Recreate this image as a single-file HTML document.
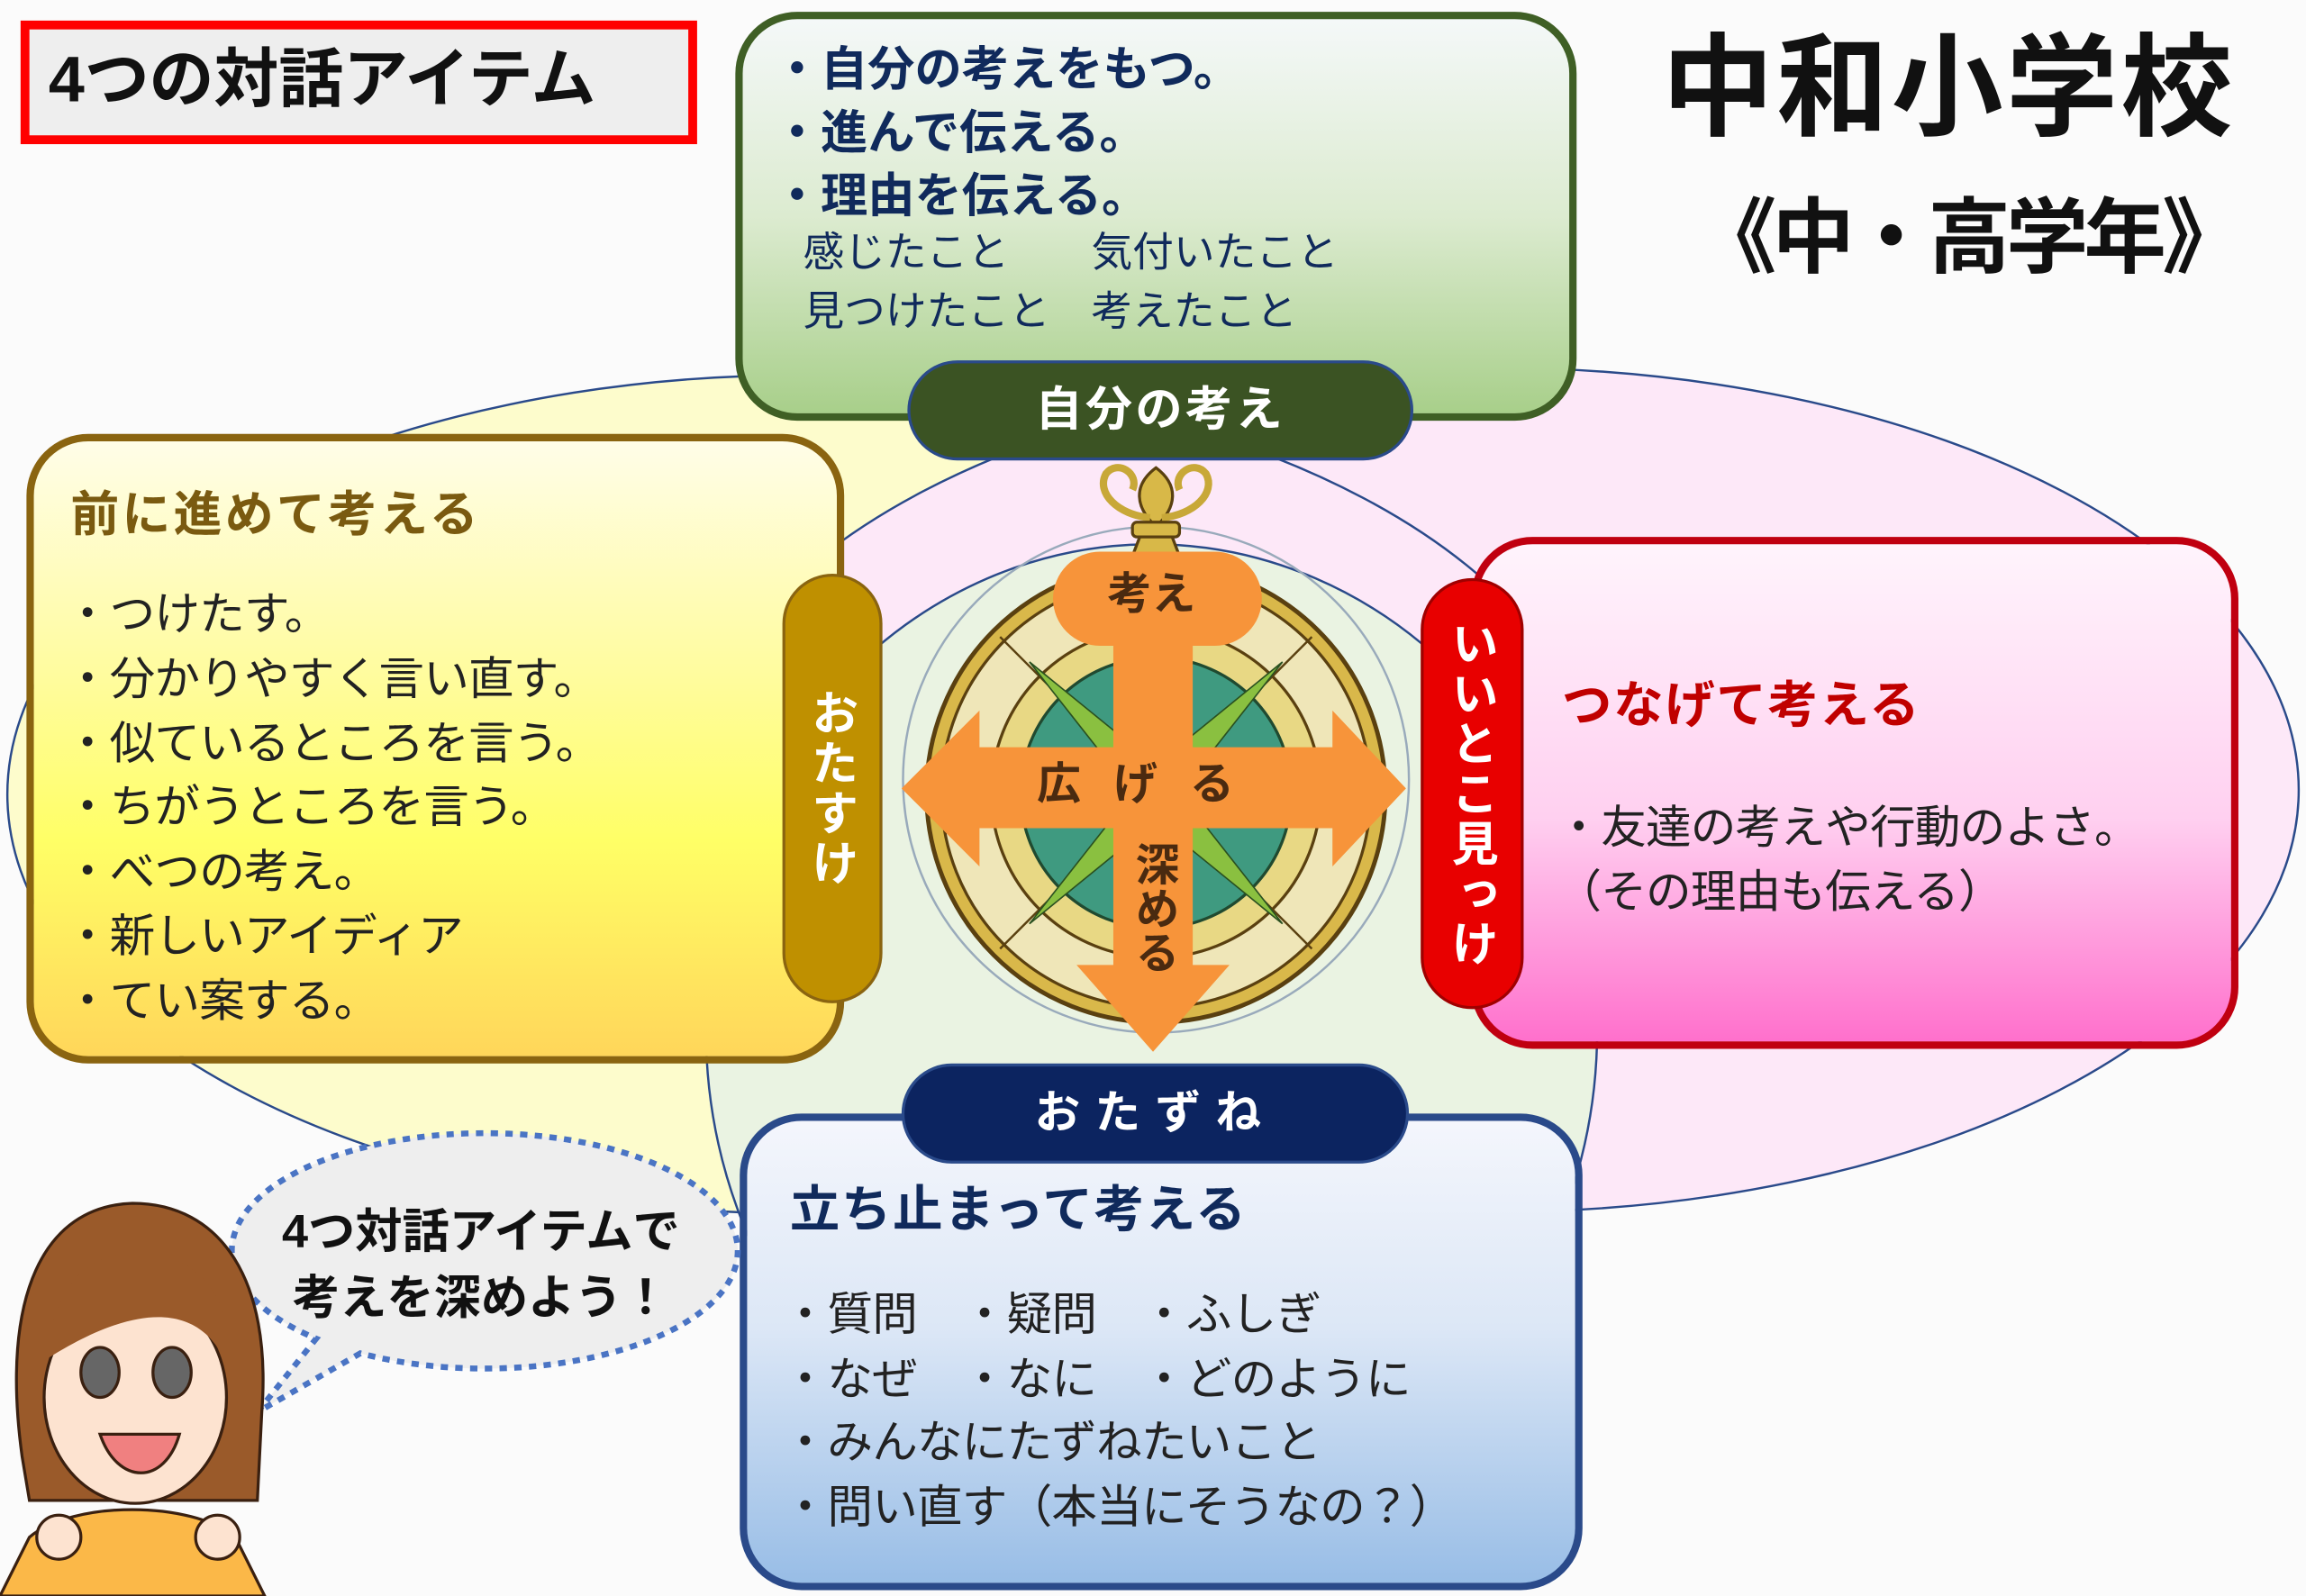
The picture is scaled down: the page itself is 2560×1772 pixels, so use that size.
<!DOCTYPE html>
<html><head><meta charset="utf-8"><style>
html,body{margin:0;padding:0;background:#fbfbfb;}
#w{position:relative;width:2560px;height:1772px;overflow:hidden;}
#s{position:absolute;left:0;top:0;width:1568px;height:1085px;transform:scale(1.6327,1.6332);transform-origin:0 0;font-family:"Liberation Sans","Noto Sans CJK JP",sans-serif;}
.a{position:absolute;box-sizing:border-box;}
.t{position:absolute;white-space:nowrap;line-height:1;}
.vt{writing-mode:vertical-rl;color:#fff;font-weight:bold;font-size:32px;display:flex;align-items:center;justify-content:center;letter-spacing:2px;}
</style></head><body><div id="w"><div id="s">
<svg class="a" style="left:0;top:0" width="1568" height="1085">
<ellipse cx="545" cy="540" rx="540" ry="285" fill="#fdfccc" stroke="#2a4a8a" stroke-width="1.5"/>
<ellipse cx="1015" cy="537" rx="548" ry="287" fill="#fde8f8" stroke="#2a4a8a" stroke-width="1.5"/>
<path d="M545 255 A540 285 0 0 1 1085 540" fill="none" stroke="#2a4a8a" stroke-width="1.5"/>
<ellipse cx="783" cy="700" rx="303" ry="330" fill="#eaf3e2" stroke="#2a4a8a" stroke-width="1.5"/>
<circle cx="786" cy="530" r="172" fill="none" stroke="#9ab" stroke-width="1.5"/>
<circle cx="786" cy="539" r="156" fill="#d9b84a" stroke="#5a4010" stroke-width="3"/>
<circle cx="786" cy="539" r="146" fill="#efe6b8" stroke="#5a4010" stroke-width="2"/>
<circle cx="786" cy="539" r="112" fill="#e8d884" stroke="#5a4010" stroke-width="2"/>
<circle cx="786" cy="539" r="92" fill="#3f9a80" stroke="#204a30" stroke-width="2"/>
<g stroke="#5a4010" stroke-width="1.5">
<line x1="680" y1="433" x2="892" y2="645"/><line x1="892" y1="433" x2="680" y2="645"/>
<line x1="786" y1="383" x2="786" y2="695"/><line x1="630" y1="539" x2="942" y2="539"/>
</g>
<polygon points="700,450 786,520 770,539" fill="#8ac040" stroke="#2a5020"/>
<polygon points="872,450 786,520 802,539" fill="#8ac040" stroke="#2a5020"/>
<polygon points="700,628 786,558 770,539" fill="#8ac040" stroke="#2a5020"/>
<polygon points="872,628 786,558 802,539" fill="#8ac040" stroke="#2a5020"/>
<g fill="#d8b848" stroke="#5a4010" stroke-width="2">
<path d="M786 318 C770 330 772 345 786 358 C800 345 802 330 786 318Z"/>
<path d="M782 352 C760 350 745 335 752 322 C760 312 775 322 770 333" fill="none" stroke-width="5" stroke="#c8a838"/>
<path d="M790 352 C812 350 827 335 820 322 C812 312 797 322 802 333" fill="none" stroke-width="5" stroke="#c8a838"/>
<rect x="770" y="355" width="32" height="10" rx="3"/>
<path d="M775 365 L770 378 L802 378 L797 365Z"/>
</g>
<g fill="#f7943a">
<polygon points="613,536 666,483 666,508 906,508 906,483 956,536 906,589 906,563 666,563 666,589"/>
<rect x="757" y="420" width="54" height="240"/>
<polygon points="732,656 836,656 784,715"/>
<rect x="716" y="375" width="142" height="64" rx="32"/>
</g>
</svg>
<div class="t" style="left:753px;top:390px;font-size:30px;font-weight:bold;color:#4a2a10">考え</div>
<div class="t" style="left:705px;top:519px;font-size:30px;font-weight:bold;color:#4a2a10;letter-spacing:22px">広げる</div>
<div class="t" style="left:768px;top:572px;font-size:30px;font-weight:bold;color:#4a2a10;writing-mode:vertical-rl">深める</div>

<div class="a" style="left:14px;top:14px;width:460px;height:84px;border:6px solid #f00;background:#eee"></div>
<div class="t" style="left:33px;top:33px;font-size:44px;font-weight:bold;color:#111">4つの対話アイテム</div>
<div class="t" style="left:1130px;top:23px;font-size:76px;font-weight:bold;color:#111;letter-spacing:2px">中和小学校</div>
<div class="t" style="left:1152px;top:134px;font-size:56px;font-weight:bold;color:#111;letter-spacing:-3px">《中・高学年》</div>

<div class="a" style="left:500px;top:8px;width:572px;height:278px;border:5px solid #3f5f25;border-radius:42px;background:linear-gradient(#f4f8f8,#dcebd0 50%,#a8cf8a)"></div>
<div class="t" style="left:526px;top:26px;font-size:32px;font-weight:bold;color:#102a5c;line-height:43px">・自分の考えをもつ。<br>・進んで伝える。<br>・理由を伝える。</div>
<div class="t" style="left:546px;top:152px;font-size:28px;color:#102a5c;line-height:40px">感じたこと　　気付いたこと<br>見つけたこと　考えたこと</div>
<div class="a" style="left:617px;top:245px;width:344px;height:68px;border-radius:34px;background:#3b5323;border:2px solid #2a4a8a"></div>
<div class="t" style="left:617px;top:262px;width:344px;text-align:center;font-size:32px;font-weight:bold;color:#fff;letter-spacing:2px">自分の考え</div>

<div class="a" style="left:18px;top:295px;width:556px;height:428px;border:5px solid #8a6410;border-radius:42px;background:linear-gradient(#fffde8,#fffc9a 40%,#ffff66 65%,#ffd65a)"></div>
<div class="t" style="left:48px;top:333px;font-size:33px;font-weight:bold;color:#7a5a10;letter-spacing:2px">前に進めて考える</div>
<div class="t" style="left:44px;top:396px;font-size:31px;color:#222;line-height:43.8px;letter-spacing:-0.5px">・つけたす。<br>・分かりやすく言い直す。<br>・似ているところを言う。<br>・ちがうところを言う。<br>・べつの考え。<br>・新しいアイディア<br>・てい案する。</div>
<div class="a vt" style="left:532px;top:390px;width:68px;height:292px;border-radius:34px;background:#bf9000;border:2px solid #8a6410">おたすけ</div>

<div class="a" style="left:1000px;top:365px;width:522px;height:348px;border:5px solid #c00010;border-radius:42px;background:linear-gradient(#fff4fc,#ffd0f0 55%,#ff70cc)"></div>
<div class="t" style="left:1062px;top:463px;font-size:34px;font-weight:bold;color:#c00000;letter-spacing:1px">つなげて考える</div>
<div class="t" style="left:1058px;top:541px;font-size:31px;color:#222;line-height:44px;letter-spacing:-0.5px">・友達の考えや行動のよさ。<br>（その理由も伝える）</div>
<div class="a vt" style="left:966px;top:393px;width:70px;height:293px;border-radius:35px;background:#e80000;border:2px solid #a00000">いいとこ見っけ</div>

<div class="a" style="left:503px;top:757px;width:573px;height:324px;border:5px solid #2a4a8a;border-radius:42px;background:linear-gradient(#f4f6fc,#dce7f6 45%,#98bde6)"></div>
<div class="t" style="left:537px;top:806px;font-size:34px;font-weight:bold;color:#102a5c;letter-spacing:1px">立ち止まって考える</div>
<div class="t" style="left:532px;top:872px;font-size:31px;color:#222;line-height:43.5px;letter-spacing:-0.5px">・質問　・疑問　・ふしぎ<br>・なぜ　・なに　・どのように<br>・みんなにたずねたいこと<br>・問い直す（本当にそうなの？）</div>
<div class="a" style="left:613px;top:723px;width:345px;height:68px;border-radius:34px;background:#0c2460;border:2px solid #2a4a8a"></div>
<div class="t" style="left:613px;top:741px;width:345px;text-align:center;font-size:31px;font-weight:bold;color:#fff;letter-spacing:10px">おたずね</div>

<svg class="a" style="left:0;top:760px" width="510" height="325">
<path d="M175 200 L215 150 A172 80 0 1 1 245 160 Z" fill="#eee" stroke="#4a74c4" stroke-width="4" stroke-dasharray="5,5"/>
<path d="M15 230 C0 120 30 60 90 58 C150 58 185 110 178 200 L175 260 L20 260Z" fill="#9a5a2a" stroke="#3a2010" stroke-width="2"/>
<path d="M0 325 L20 285 C50 260 130 260 160 285 L180 325Z" fill="#fbb848" stroke="#3a2010" stroke-width="2"/>
<ellipse cx="92" cy="190" rx="62" ry="72" fill="#fde3d0" stroke="#3a2010" stroke-width="2"/>
<path d="M30 165 C40 100 70 90 100 92 C140 95 160 130 155 170 C140 130 100 120 30 165Z" fill="#9a5a2a"/>
<ellipse cx="68" cy="173" rx="13" ry="17" fill="#666" stroke="#3a2010" stroke-width="2"/>
<ellipse cx="117" cy="173" rx="13" ry="17" fill="#666" stroke="#3a2010" stroke-width="2"/>
<path d="M68 215 C80 250 112 250 122 215Z" fill="#f08080" stroke="#3a2010" stroke-width="2"/>
<circle cx="40" cy="285" r="15" fill="#fde3d0" stroke="#3a2010" stroke-width="2"/>
<circle cx="148" cy="285" r="15" fill="#fde3d0" stroke="#3a2010" stroke-width="2"/>
</svg>
<div class="t" style="left:182px;top:815px;font-size:32px;font-weight:bold;color:#111;line-height:45px;text-align:center;width:290px">4つ対話アイテムで<br>考えを深めよう！</div>
</div></div></body></html>
